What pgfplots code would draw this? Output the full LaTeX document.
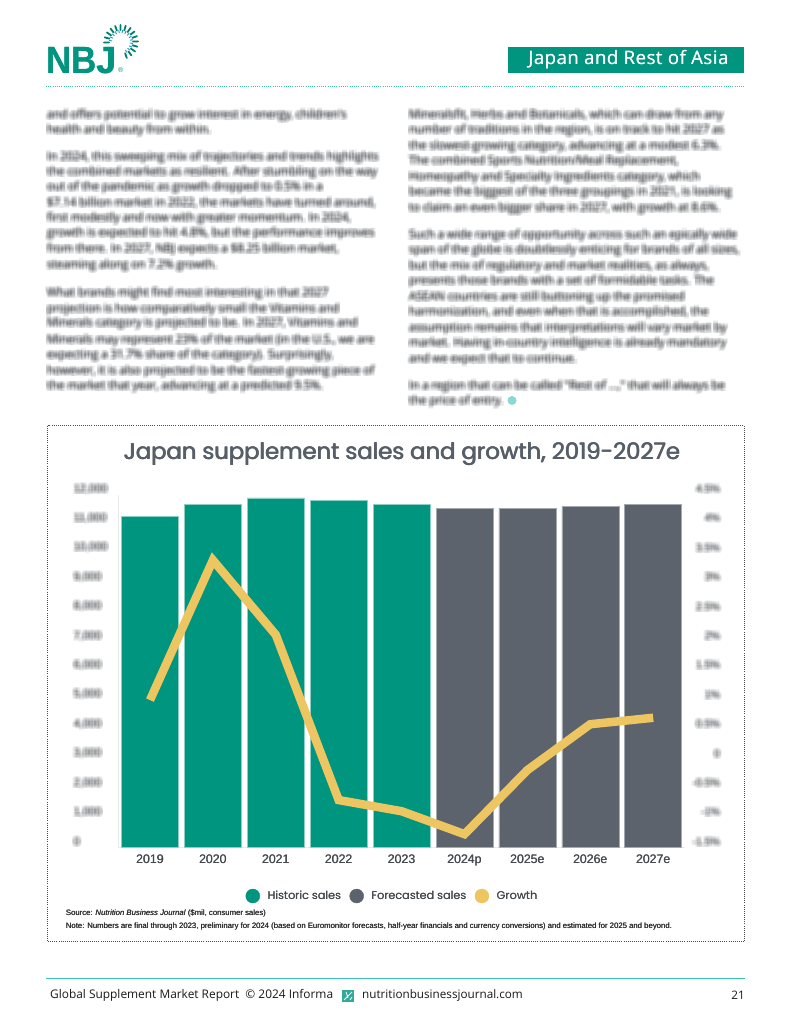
\documentclass[border=0pt]{standalone}
\usepackage{fontspec}
\usepackage{pgfplots}
\usepackage{pgfplotstable}
\pgfplotsset{compat=1.18}
\setmainfont{Liberation Sans}
\newfontfamily\pop{Poppins}
\newfontfamily\opens{Open Sans}
\newfontfamily\bannerfont[LetterSpace=3]{Open Sans}
\definecolor{nbjteal}{HTML}{00957E}
\definecolor{nbjgrey}{HTML}{5C636D}
\definecolor{nbjyellow}{HTML}{EDC561}
\definecolor{titlegrey}{HTML}{565E68}
\definecolor{labelgrey}{HTML}{44494F}
\definecolor{blurgrey}{HTML}{33383D}
\definecolor{ruleteal}{HTML}{3DBFB4}

% sales in $mil, growth in %
\pgfplotstableread{
x sales
0 11282
1 11667
2 11895
3 11816
4 11690
}\historic
\pgfplotstableread{
x sales
5 11554
6 11554
7 11599
8 11690
}\forecast
\pgfplotstableread{
x growth
0 1.01
1 3.39
2 2.12
3 -0.69
4 -0.88
5 -1.27
6 -0.18
7 0.60
8 0.71
}\growth

% heavier weight: the string twice, a hair apart
\newcommand{\fb}[2][.35pt]{\rlap{#2}\kern#1#2}
% blurred text: same string stacked with low opacity
\newcommand{\blurset}[1]{%
  \foreach \dx in {-2,-1,0,1,2}{\foreach \dy in {-2,-1,0,1,2}{#1}}}
\newcommand{\bl}[3]{\blurset{\node[anchor=base west,inner sep=0pt,opacity=.075,text=blurgrey,font=\opens\fontsize{11.4}{13}\selectfont]
  at ([xshift=\dx*1.0pt,yshift=\dy*1.0pt]#1,#2+3.5) {#3};}}
\newcommand{\blab}[1]{\tikz[baseline=(b.base)]{\node[inner sep=0pt,opacity=0](b){#1};
  \blurset{\node[inner sep=0pt,opacity=.06,text=blurgrey] at (\dx*1.0pt,\dy*1.0pt) {#1};}}}

\begin{document}
\begin{tikzpicture}
\path[use as bounding box,fill=white] (0,0) rectangle (791pt,1024pt);

\begin{axis}[
    at={(118.55pt,176.3pt)}, anchor=south west,
    scale only axis, width=566.1pt, height=352.8pt,
    xmin=-0.5, xmax=8.5, ymin=0, ymax=12000,
    axis x line=bottom, axis y line=left,
    axis line style={draw=black!8,-},
    major tick length=0pt,
    scaled y ticks=false,
    xtick={0,...,8},
    xticklabels={\fb{2019},\fb{2020},\fb{2021},\fb{2022},\fb{2023},\fb{2024p},\fb{2025e},\fb{2026e},\fb{2027e}},
    xticklabel style={font=\fontsize{12.3}{14}\selectfont,text=labelgrey,yshift=-4pt},
    ytick={0,1000,...,12000},
    yticklabels={\blab{0},\blab{1,000},\blab{2,000},\blab{3,000},\blab{4,000},\blab{5,000},\blab{6,000},\blab{7,000},\blab{8,000},\blab{9,000},\blab{10,000},\blab{11,000},\blab{12,000}},
    yticklabel style={font=\fontsize{11}{13}\selectfont,text width=38pt,align=left,inner sep=0pt,anchor=east,xshift=-8.5pt,yshift=6pt},
    legend columns=-1,
    legend style={at={(0.484,-0.137)},anchor=center,draw=none,fill=none,
      font=\pop\fontsize{11.2}{13}\selectfont,text=labelgrey,
      /tikz/every even column/.append style={column sep=6.3pt},
      /tikz/every odd column/.append style={column sep=5.6pt}},
]
\addplot[ybar,bar width=57pt,bar shift=0pt,fill=nbjteal,draw=nbjteal!45,line width=.6pt,forget plot] table[x=x,y=sales] {\historic};
\addplot[ybar,bar width=57pt,bar shift=0pt,fill=nbjgrey,draw=nbjgrey!55,line width=.6pt,forget plot] table[x=x,y=sales] {\forecast};
\addlegendimage{legend image code/.code={\fill[nbjteal] (0.2cm,0) circle (7pt);}}
\addlegendimage{legend image code/.code={\fill[nbjgrey] (0.2cm,0) circle (7pt);}}
\addlegendimage{legend image code/.code={\fill[nbjyellow] (0.2cm,0) circle (7pt);}}
\legend{\fb[.25pt]{Historic sales},\fb[.25pt]{Forecasted sales},\fb[.25pt]{Growth}}
\end{axis}

\begin{axis}[
    at={(118.55pt,176.3pt)}, anchor=south west,
    scale only axis, width=566.1pt, height=352.8pt,
    xmin=-0.5, xmax=8.5, ymin=-1.5, ymax=4.5,
    axis x line=none, axis y line=right,
    y axis line style={draw=none,-},
    major tick length=0pt,
    ytick={-1.5,-1,...,4.5},
    yticklabels={\blab{-1.5\%},\blab{-1\%},\blab{-0.5\%},\blab{0},\blab{0.5\%},\blab{1\%},\blab{1.5\%},\blab{2\%},\blab{2.5\%},\blab{3\%},\blab{3.5\%},\blab{4\%},\blab{4.5\%}},
    yticklabel style={font=\fontsize{10.5}{12}\selectfont,text width=30pt,align=right,inner sep=0pt,anchor=east,xshift=33.5pt,yshift=6pt},
]
\addplot[nbjyellow,line width=8.5pt,miter limit=10,line join=miter] table[x=x,y=growth] {\growth};
\end{axis}

% logo sunburst
\begin{scope}[shift={(121pt,982pt)}]
  \foreach \a in {-70,-52,...,190}{\draw[nbjteal!85!black,line width=1.8pt,line cap=round] (\a:12pt)--(\a:17pt);}
  \foreach \a in {-61,-43,...,190}{\draw[cyan!60!teal,line width=1pt] (\a:9pt)--(\a:12pt);}
\end{scope}

% page furniture, pixel coordinates from the top left
\begin{scope}[x=1pt,y=-1pt,yshift=1024pt]
  \node[anchor=west,inner sep=0pt,xscale=.92,text=nbjteal,font=\bfseries\fontsize{38}{38}\selectfont] at (46,60.5) {\fb[.6pt]{NBJ}};
  \node[anchor=west,inner sep=0pt,text=nbjteal,font=\fontsize{7}{7}\selectfont] at (118,70) {®};
  \fill[nbjteal] (508,47) rectangle (744,73);
  \node[text=white,inner sep=0pt,font=\bannerfont\fontsize{18.5}{20}\selectfont] at (628.5,60) {\fb[.3pt]{Japan and Rest of Asia}};
  \draw[ruleteal,line width=.8pt,dash pattern=on .8pt off 1.4pt] (46,86) -- (745,86);

  \bl{47}{115}{and offers potential to grow interest in energy, children's}
  \bl{47}{130}{health and beauty from within.}
  \bl{47}{157}{In 2024, this sweeping mix of trajectories and trends highlights}
  \bl{47}{172}{the combined markets as resilient. After stumbling on the way}
  \bl{47}{187}{out of the pandemic as growth dropped to 0.5\% in a}
  \bl{47}{203}{\$7.14 billion market in 2022, the markets have turned around,}
  \bl{47}{218}{first modestly and now with greater momentum. In 2024,}
  \bl{47}{233}{growth is expected to hit 4.8\%, but the performance improves}
  \bl{47}{249}{from there. In 2027, NBJ expects a \$8.25 billion market,}
  \bl{47}{265}{steaming along on 7.2\% growth.}
  \bl{47}{293}{What brands might find most interesting in that 2027}
  \bl{47}{309}{projection is how comparatively small the Vitamins and}
  \bl{47}{323}{Minerals category is projected to be. In 2027, Vitamins and}
  \bl{47}{340}{Minerals may represent 23\% of the market (in the U.S., we are}
  \bl{47}{355}{expecting a 31.7\% share of the category). Surprisingly,}
  \bl{47}{371}{however, it is also projected to be the fastest-growing piece of}
  \bl{47}{386}{the market that year, advancing at a predicted 9.5\%.}

  \bl{409}{115}{Mineralsfit, Herbs and Botanicals, which can draw from any}
  \bl{409}{130}{number of traditions in the region, is on track to hit 2027 as}
  \bl{409}{146}{the slowest-growing category, advancing at a modest 6.3\%.}
  \bl{409}{161}{The combined Sports Nutrition/Meal Replacement,}
  \bl{409}{177}{Homeopathy and Specialty Ingredients category, which}
  \bl{409}{192}{became the biggest of the three groupings in 2021, is looking}
  \bl{409}{208}{to claim an even bigger share in 2027, with growth at 8.6\%.}
  \bl{409}{235}{Such a wide range of opportunity across such an epically wide}
  \bl{409}{250}{span of the globe is doubtlessly enticing for brands of all sizes,}
  \bl{409}{266}{but the mix of regulatory and market realities, as always,}
  \bl{409}{281}{presents those brands with a set of formidable tasks. The}
  \bl{409}{297}{ASEAN countries are still buttoning up the promised}
  \bl{409}{312}{harmonization, and even when that is accomplished, the}
  \bl{409}{328}{assumption remains that interpretations will vary market by}
  \bl{409}{343}{market. Having in-country intelligence is already mandatory}
  \bl{409}{359}{and we expect that to continue.}
  \bl{409}{386}{In a region that can be called "Rest of \dots," that will always be}
  \bl{409}{401}{the price of entry.}
  \fill[ruleteal,opacity=.6] (512,400.5) circle (4.5);

  \draw[black!70,line width=.7pt,dash pattern=on .7pt off 1.4pt] (47.5,425.7) rectangle (744.5,941.7);
  \node[text=titlegrey,inner sep=0pt,font=\pop\fontsize{22.7}{26}\selectfont] at (402,454) {\rlap{Japan supplement sales and growth, 2019-2027e}\kern.4pt\rlap{Japan supplement sales and growth, 2019-2027e}\kern.4pt Japan supplement sales and growth, 2019-2027e};
  \node[anchor=west,inner sep=0pt,text=black!85,font=\fontsize{7.75}{9}\selectfont] at (65.7,913) {\fb[.2pt]{Source: \textit{Nutrition Business Journal} (\$mil, consumer sales)}};
  \node[anchor=west,inner sep=0pt,text=black!85,font=\fontsize{7.75}{9}\selectfont] at (65.7,926.7) {\fb[.2pt]{Note: Numbers are final through 2023, preliminary for 2024 (based on Euromonitor forecasts, half-year financials and currency conversions) and estimated for 2025 and beyond.}};

  \draw[ruleteal,line width=1.2pt] (46,978.3) -- (745,978.3);
  \node[anchor=west,inner sep=0pt,text=black!90,font=\opens\fontsize{11.9}{14}\selectfont] at (50,995.7) {Global Supplement Market Report\ \ © 2024 Informa};
  \fill[nbjteal!80] (342,990) rectangle (354,1002);
  \draw[white,line width=.8pt] (344,1000) -- (352,992) (346,992) -- (348,998) (350,1000) -- (352,997);
  \node[anchor=west,inner sep=0pt,text=black!90,font=\opens\fontsize{11.7}{14}\selectfont] at (362,995.7) {nutritionbusinessjournal.com};
  \node[anchor=east,inner sep=0pt,text=black!90,font=\opens\fontsize{11.7}{14}\selectfont] at (745,995.7) {21};
\end{scope}
\end{tikzpicture}
\end{document}
